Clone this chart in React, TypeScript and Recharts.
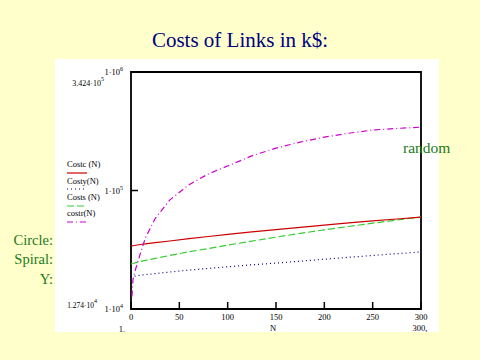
import { LineChart, Line, XAxis, YAxis, ReferenceArea } from "recharts";

// N values and the four cost curves (k$)
const nValues = [0, 1, 2, 5, 10, 15, 25, 40, 60, 80, 100, 125, 150, 175, 200, 225, 250, 275, 300];
const circleCost = [34000, 34100, 34200, 34500, 35000, 35400, 36300, 37500, 39200, 40900, 42600, 44700, 46800, 48900, 51100, 53300, 55400, 57500, 59700];
const spiralCost = [24000, 24100, 24200, 24600, 25200, 25700, 26700, 28300, 30400, 32400, 34600, 37400, 40400, 43400, 46600, 49700, 53000, 56300, 59700];
const yCost = [18400, 18700, 18800, 19000, 19300, 19500, 19900, 20500, 21300, 22000, 22700, 23600, 24400, 25300, 26300, 27300, 28300, 29300, 30300];
const randomCost = [null, 12740, 17600, 22000, 30000, 40000, 58000, 83000, 112000, 138000, 161000, 196000, 228000, 256000, 282000, 304000, 324000, 334000, 342400];

const xTicks = [0, 50, 100, 150, 200, 250, 300];
const yTicks = [1e4, 1e5, 1e6];

const data = nValues.map((n, i) => ({
  n,
  circle: circleCost[i],
  spiral: spiralCost[i],
  y: yCost[i],
  random: randomCost[i],
}));

const SERIF = "'Liberation Serif', 'Times New Roman', serif";

function XTick({ x, y, payload }: any) {
  return (
    <g>
      <line x1={x} x2={x} y1={y} y2={y - 7} stroke="#000" strokeWidth={1.5} />
      <text x={x} y={y + 11} textAnchor="middle" fontSize={8.5} fontFamily={SERIF} fill="#000">
        {payload.value}
      </text>
    </g>
  );
}

function LeftTick({ x, y, payload }: any) {
  const exp = Math.round(Math.log10(payload.value));
  return (
    <g>
      {exp === 5 && <line x1={x} x2={x + 7} y1={y} y2={y} stroke="#000" strokeWidth={1.5} />}
      <text x={x - 8} y={y + 3} textAnchor="end" fontSize={8.5} fontFamily={SERIF} fill="#000">
        1·10<tspan dy={-4} fontSize={6}>{exp}</tspan>
      </text>
    </g>
  );
}

function RightTick({ x, y, payload }: any) {
  const exp = Math.round(Math.log10(payload.value));
  if (exp !== 5) return <g />;
  return <line x1={x - 7} x2={x} y1={y} y2={y} stroke="#000" strokeWidth={1.5} />;
}

export default function App() {
  return (
    <div style={{ position: "fixed", left: 0, top: 0, width: 480, height: 360, background: "#FFFFCC", overflow: "hidden" }}>
      <div style={{ position: "absolute", left: 55, top: 59, width: 384, height: 273, background: "#FFFFFF" }} />
      <div style={{ position: "absolute", left: 0, top: 0 }}>
        <LineChart width={480} height={360} data={data} margin={{ top: 72, right: 59, bottom: 21, left: 71 }}>
          <XAxis
            dataKey="n"
            type="number"
            domain={[0, 300]}
            ticks={xTicks}
            interval={0}
            height={30}
            axisLine={false}
            tickLine={false}
            tickSize={0}
            tickMargin={0}
            tick={<XTick />}
          />
          <YAxis
            scale="log"
            type="number"
            domain={[1e4, 1e6]}
            allowDataOverflow
            ticks={yTicks}
            interval={0}
            width={60}
            axisLine={false}
            tickLine={false}
            tickSize={0}
            tickMargin={0}
            tick={<LeftTick />}
          />
          <YAxis
            yAxisId="right"
            orientation="right"
            scale="log"
            type="number"
            domain={[1e4, 1e6]}
            allowDataOverflow
            ticks={yTicks}
            interval={0}
            width={0}
            axisLine={false}
            tickLine={false}
            tickSize={0}
            tickMargin={0}
            tick={<RightTick />}
          />
          <Line dataKey="y" stroke="#000080" strokeWidth={1.2} strokeDasharray="1 3" dot={false} isAnimationActive={false} />
          <Line dataKey="spiral" stroke="#33CC33" strokeWidth={1.2} strokeDasharray="7 3" dot={false} isAnimationActive={false} />
          <Line dataKey="circle" stroke="#CC0000" strokeWidth={1.2} dot={false} isAnimationActive={false} />
          <Line dataKey="random" stroke="#CC00CC" strokeWidth={1.2} strokeDasharray="6 3 1 3" dot={false} isAnimationActive={false} />
          <ReferenceArea x1={0} x2={300} y1={1e4} y2={1e6} fill="none" fillOpacity={0} stroke="#000" strokeWidth={1.8} />
        </LineChart>
      </div>
      <svg width={480} height={360} style={{ position: "absolute", left: 0, top: 0, pointerEvents: "none" }} fontFamily={SERIF}>
        <text x={240} y={47} textAnchor="middle" fontSize={21} fill="#000080">Costs of Links in k$:</text>

        <text x={104} y={86} textAnchor="end" fontSize={8} fill="#000">
          3.424·10<tspan dy={-5} fontSize={6}>5</tspan>
        </text>
        <text x={97} y={308} textAnchor="end" fontSize={7.5} fill="#000">
          1.274·10<tspan dy={-5} fontSize={6}>4</tspan>
        </text>

        <text x={67} y={167} fontSize={8.5} fill="#000">Costc (N)</text>
        <line x1={67} x2={87} y1={173} y2={173} stroke="#CC0000" strokeWidth={1.2} />
        <text x={67} y={184} fontSize={8.5} fill="#000">Costy(N)</text>
        <line x1={67} x2={87} y1={189} y2={189} stroke="#000080" strokeWidth={1.2} strokeDasharray="1 3" />
        <text x={67} y={200} fontSize={8.5} fill="#000">Costs (N)</text>
        <line x1={67} x2={87} y1={206} y2={206} stroke="#33CC33" strokeWidth={1.2} strokeDasharray="7 3" />
        <text x={67} y={216} fontSize={8.5} fill="#000">costr(N)</text>
        <line x1={67} x2={87} y1={222} y2={222} stroke="#CC00CC" strokeWidth={1.2} strokeDasharray="6 3 1 3" />

        <text x={273} y={331} textAnchor="middle" fontSize={8.5} fill="#000">N</text>
        <text x={420} y={331} textAnchor="middle" fontSize={8.5} fill="#000">300,</text>
        <text x={122} y={332} textAnchor="middle" fontSize={8.5} fill="#000">1.</text>

        <text x={53} y={245} textAnchor="end" fontSize={14.5} fill="#1A7A1A">Circle:</text>
        <text x={53} y={264} textAnchor="end" fontSize={14.5} fill="#1A7A1A">Spiral:</text>
        <text x={53} y={284} textAnchor="end" fontSize={14.5} fill="#1A7A1A">Y:</text>
        <text x={403} y={153} fontSize={15.5} fill="#1A7A1A">random</text>
      </svg>
    </div>
  );
}
